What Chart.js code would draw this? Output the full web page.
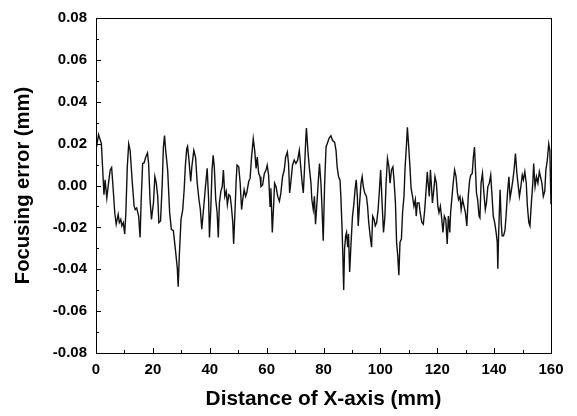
<!DOCTYPE html>
<html>
<head>
<meta charset="utf-8">
<script src="https://cdn.jsdelivr.net/npm/chart.js@4/dist/chart.umd.min.js"></script>
<style>
  html, body { margin: 0; padding: 0; background: #fff; }
  #wrap { width: 577px; height: 416px; }
</style>
</head>
<body>
<div id="wrap"><canvas id="c" width="577" height="416"></canvas></div>
<script>
const distance = [
  0.2, 0.9, 1.9, 2.8, 3.2, 3.8, 4.4, 5.0, 5.5, 5.9, 6.6, 7.1, 7.8, 8.2, 8.7, 9.1, 9.6, 10.1, 10.5, 11.0,
  11.5, 12.0, 12.7, 13.4, 13.8, 14.3, 15.0, 15.5, 15.9, 16.4, 16.9, 17.5, 18.1, 18.5, 19.0, 19.5, 20.2, 20.7, 21.2, 21.7,
  22.1, 22.7, 23.3, 23.7, 24.1, 24.5, 25.2, 25.9, 26.5, 27.2, 27.9, 28.6, 28.9, 29.3, 29.9, 30.5, 31.0, 31.4, 31.9, 32.2,
  32.7, 33.3, 33.7, 34.4, 35.0, 35.6, 36.2, 36.7, 37.2, 37.7, 38.2, 38.6, 39.1, 39.6, 39.9, 40.4, 40.8, 41.2, 41.6, 42.1,
  42.6, 43.0, 43.4, 43.9, 44.4, 44.8, 45.3, 45.8, 46.2, 46.7, 47.2, 47.6, 48.1, 48.4, 48.9, 49.3, 49.6, 50.2, 50.7, 51.2,
  51.6, 52.1, 52.6, 53.0, 53.7, 54.2, 54.7, 55.3, 55.8, 56.3, 56.7, 57.2, 57.7, 58.0, 58.6, 59.2, 59.8, 60.2, 60.7, 61.2,
  61.5, 62.0, 62.5, 62.8, 63.3, 63.9, 64.5, 65.0, 65.6, 66.2, 66.7, 67.3, 67.7, 68.1, 68.6, 69.1, 69.7, 70.3, 70.9, 71.5,
  72.0, 72.5, 72.9, 73.3, 73.8, 74.0, 74.5, 75.0, 75.6, 75.9, 76.4, 76.8, 77.2, 77.7, 78.2, 78.6, 79.1, 79.5, 79.9, 80.4,
  80.9, 81.3, 82.0, 82.6, 83.2, 83.9, 84.4, 84.8, 85.3, 85.8, 86.1, 86.5, 86.8, 87.1, 87.4, 87.8, 88.1, 88.5, 88.8, 89.2,
  89.7, 90.2, 90.6, 91.1, 91.5, 91.9, 92.2, 92.7, 93.2, 93.6, 94.0, 94.5, 95.1, 95.5, 95.9, 96.4, 96.9, 97.3, 97.8, 98.2,
  98.7, 99.2, 99.6, 100.1, 100.6, 101.1, 101.6, 102.0, 102.5, 103.0, 103.4, 103.9, 104.4, 104.8, 105.3, 105.7, 106.1, 106.5, 106.9, 107.4,
  107.8, 108.3, 108.7, 109.2, 109.5, 109.9, 110.4, 110.8, 111.3, 111.8, 112.3, 112.6, 113.0, 113.6, 114.0, 114.6, 115.1, 115.6, 116.0, 116.5,
  116.8, 117.2, 117.6, 117.9, 118.3, 118.8, 119.2, 119.7, 120.2, 120.6, 121.1, 121.6, 122.0, 122.5, 123.0, 123.5, 123.9, 124.4, 124.7, 125.2,
  125.6, 126.1, 126.6, 127.1, 127.5, 128.0, 128.4, 128.9, 129.4, 129.9, 130.4, 130.9, 131.4, 131.8, 132.3, 132.7, 133.1, 133.8, 134.2, 134.7,
  135.0, 135.4, 135.9, 136.4, 136.9, 137.3, 137.8, 138.3, 138.8, 139.2, 139.7, 140.2, 140.7, 141.1, 141.3, 141.6, 142.1, 142.5, 142.8, 143.3,
  143.8, 144.2, 144.7, 145.2, 145.6, 146.1, 146.6, 147.0, 147.5, 148.0, 148.5, 148.9, 149.4, 149.9, 150.3, 150.8, 151.3, 151.7, 152.2, 152.6,
  153.1, 153.6, 153.9, 154.4, 154.9, 155.4, 155.9, 156.3, 156.8, 157.3, 157.8, 158.2, 158.7, 159.2, 159.6, 160.0
];
const focusingError = [
  0.0184, 0.0243, 0.0199, -0.0044, 0.0027, -0.0060, 0.0011, 0.0074, 0.0086, 0.0011, -0.0130, -0.0185, -0.0138, -0.0177, -0.0162, -0.0193, -0.0177, -0.0232, -0.0130, 0.0089,
  0.0199, 0.0168, 0.0027, -0.0099, -0.0115, -0.0107, -0.0146, -0.0248, -0.0067, 0.0105, 0.0108, 0.0136, 0.0155, 0.0105, -0.0067, -0.0162, -0.0083, 0.0042, 0.0011, -0.0052,
  -0.0177, -0.0169, 0.0011, 0.0184, 0.0238, 0.0168, 0.0074, -0.0130, -0.0209, -0.0216, -0.0303, -0.0397, -0.0483, -0.0334, -0.0162, -0.0115, -0.0020, 0.0089, 0.0176, 0.0187,
  0.0121, 0.0019, 0.0089, 0.0168, 0.0136, 0.0011, -0.0067, -0.0115, -0.0209, -0.0130, -0.0052, 0.0011, 0.0082, -0.0067, -0.0248, -0.0099, 0.0074, 0.0144, 0.0089, -0.0067,
  -0.0130, -0.0248, -0.0083, -0.0028, -0.0005, 0.0074, -0.0052, -0.0028, -0.0091, -0.0044, -0.0052, -0.0099, -0.0177, -0.0279, -0.0115, 0.0027, 0.0097, 0.0089, 0.0011, -0.0115,
  -0.0067, -0.0020, -0.0052, -0.0036, 0.0019, 0.0035, 0.0136, 0.0223, 0.0168, 0.0082, 0.0136, 0.0058, 0.0042, -0.0005, 0.0003, 0.0058, 0.0074, 0.0097, 0.0050, -0.0099,
  -0.0013, -0.0224, -0.0083, 0.0011, -0.0005, -0.0052, -0.0075, -0.0036, 0.0042, 0.0074, 0.0136, 0.0160, 0.0105, -0.0036, 0.0027, 0.0097, 0.0121, 0.0105, 0.0121, 0.0168,
  0.0089, 0.0011, -0.0036, 0.0074, 0.0231, 0.0275, 0.0168, 0.0089, 0.0011, -0.0067, -0.0115, -0.0052, -0.0185, -0.0083, 0.0027, 0.0105, 0.0011, -0.0115, -0.0264, 0.0011,
  0.0184, 0.0199, 0.0227, 0.0238, 0.0215, 0.0207, 0.0168, 0.0089, 0.0042, 0.0027, -0.0052, -0.0193, -0.0334, -0.0499, -0.0303, -0.0240, -0.0224, -0.0295, -0.0232, -0.0413,
  -0.0271, -0.0146, -0.0099, -0.0020, 0.0027, -0.0052, -0.0193, -0.0083, 0.0011, 0.0042, -0.0005, -0.0036, -0.0052, -0.0099, -0.0177, -0.0240, -0.0295, -0.0146, -0.0162, -0.0193,
  -0.0177, -0.0115, -0.0036, 0.0074, -0.0083, -0.0224, -0.0146, 0.0011, 0.0129, 0.0089, 0.0011, 0.0074, 0.0089, 0.0027, -0.0083, -0.0271, -0.0334, -0.0428, -0.0271, -0.0256,
  -0.0130, -0.0052, 0.0089, 0.0199, 0.0278, 0.0199, 0.0089, -0.0013, -0.0052, -0.0099, -0.0067, -0.0146, -0.0083, -0.0083, -0.0130, -0.0177, -0.0185, -0.0115, -0.0036, 0.0066,
  0.0011, -0.0052, 0.0074, 0.0011, -0.0083, -0.0020, 0.0042, 0.0011, -0.0099, -0.0130, -0.0099, -0.0162, -0.0224, -0.0146, -0.0162, -0.0279, -0.0146, -0.0224, -0.0130, -0.0052,
  0.0011, 0.0074, 0.0042, -0.0036, -0.0067, -0.0052, -0.0115, -0.0067, -0.0099, -0.0130, -0.0193, -0.0052, 0.0027, 0.0050, 0.0058, 0.0136, 0.0184, -0.0036, -0.0067, -0.0146,
  -0.0154, 0.0011, 0.0058, -0.0036, -0.0115, -0.0083, -0.0005, 0.0011, 0.0050, -0.0036, -0.0146, -0.0177, -0.0224, -0.0271, -0.0397, -0.0224, -0.0020, -0.0177, -0.0240, -0.0240,
  -0.0216, -0.0146, -0.0036, 0.0042, -0.0060, -0.0020, 0.0027, 0.0074, 0.0152, 0.0058, -0.0005, -0.0052, -0.0005, 0.0050, 0.0027, 0.0066, 0.0011, -0.0099, -0.0177, -0.0193,
  -0.0083, 0.0011, 0.0105, -0.0005, 0.0042, 0.0011, 0.0066, 0.0042, 0.0011, -0.0052, -0.0028, 0.0074, 0.0121, 0.0199, 0.0168, -0.0090
];
const xTicks = [0, 20, 40, 60, 80, 100, 120, 140, 160];
const yTicks = [-0.08, -0.06, -0.04, -0.02, 0.00, 0.02, 0.04, 0.06, 0.08];
const xLabel = 'Distance of X-axis (mm)';
const yLabel = 'Focusing error (mm)';

const points = distance.map((d, i) => ({ x: d, y: focusingError[i] }));
const FONT = 'Liberation Sans, Arial, Helvetica, sans-serif';

const frameTicks = {
  id: 'frameTicks',
  afterDraw(chart) {
    const { ctx, chartArea: a, scales } = chart;
    ctx.save();
    ctx.strokeStyle = '#000';
    ctx.lineWidth = 1;
    ctx.strokeRect(Math.round(a.left) + 0.5, Math.round(a.top) + 0.5, Math.round(a.right - a.left), Math.round(a.bottom - a.top));
    ctx.beginPath();
    const xs = scales.x, ys = scales.y;
    for (let v = xs.min; v <= xs.max + 1e-9; v += 10) {
      const px = Math.round(xs.getPixelForValue(v)) + 0.5;
      const len = (Math.round(v) % 20 === 0) ? 5 : 3;
      ctx.moveTo(px, a.bottom);
      ctx.lineTo(px, a.bottom - len);
    }
    for (let k = -8; k <= 8; k++) {
      const v = k * 0.01;
      const py = Math.round(ys.getPixelForValue(v)) + 0.5;
      const len = (k % 2 === 0) ? 5 : 3;
      ctx.moveTo(a.left, py);
      ctx.lineTo(a.left + len, py);
    }
    ctx.stroke();
    ctx.restore();
  }
};

new Chart(document.getElementById('c'), {
  type: 'line',
  data: {
    datasets: [{
      data: points,
      borderColor: '#111',
      borderWidth: 1.4,
      pointRadius: 0,
      tension: 0,
      fill: false
    }]
  },
  options: {
    responsive: false,
    animation: false,
    devicePixelRatio: 1,
    layout: { padding: { left: 0, right: 26, top: 14, bottom: 0 } },
    plugins: { legend: { display: false }, tooltip: { enabled: false } },
    scales: {
      x: {
        type: 'linear',
        min: 0, max: 160,
        afterBuildTicks(scale) { scale.ticks = xTicks.map(v => ({ value: v })); },
        afterFit(scale) { scale.height = 63; },
        grid: { display: false, drawTicks: false },
        border: { display: false },
        ticks: {
          color: '#000', padding: 8,
          font: { family: FONT, size: 15, weight: 'bold' },
          callback: v => String(v)
        },
        title: {
          display: true, text: xLabel, color: '#000',
          font: { family: FONT, size: 20.8, weight: 'bold' },
          padding: { top: 0, bottom: 4 }
        }
      },
      y: {
        type: 'linear',
        min: -0.08, max: 0.08,
        afterBuildTicks(scale) { scale.ticks = yTicks.map(v => ({ value: v })); },
        afterFit(scale) { scale.width = 96; },
        grid: { display: false, drawTicks: false },
        border: { display: false },
        ticks: {
          color: '#000', padding: 9,
          font: { family: FONT, size: 15, weight: 'bold' },
          callback: v => v.toFixed(2)
        },
        title: {
          display: true, text: yLabel, color: '#000',
          font: { family: FONT, size: 20.2, weight: 'bold' },
          padding: { top: 11, bottom: 0 }
        }
      }
    }
  },
  plugins: [frameTicks]
});
</script>
</body>
</html>
